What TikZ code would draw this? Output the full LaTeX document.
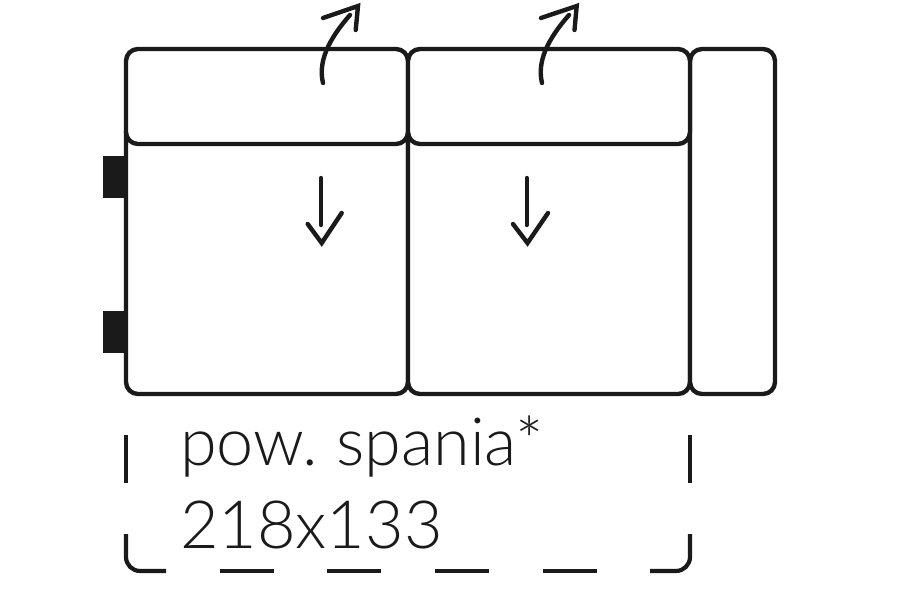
\documentclass[tikz,border=0pt]{standalone}
\usepackage{fontspec}
\setmainfont{Lato Light}
\usepackage{xcolor}
\usetikzlibrary{positioning}
\definecolor{ink}{HTML}{1A1A1A}
\tikzset{>=stealth}

\begin{document}
\begin{tikzpicture}
	[x=1pt,y=-1pt,
	seat/.style={rectangle,draw=ink,fill=white,line width=4.4pt,rounded corners=12pt,inner sep=0pt,outer sep=0pt},
	leg/.style={rectangle,fill=ink,inner sep=0pt,outer sep=0pt,minimum width=22pt,minimum height=42pt},
	caption/.style={inner sep=0pt,outer sep=0pt,anchor=base west,text=ink,font=\fontsize{66.5}{66.5}\selectfont},
	arrowline/.style={draw=ink,line width=4.4pt,line cap=round,line join=miter},
	sleep/.style={draw=ink,line width=4.2pt}]
	\useasboundingbox (0,0) rectangle (900,600);
	% legs go first, behind the frame
	\node [leg] (legA) at (114,177) {};
	\node [leg] (legB) at (114,332) {};
	% seats
	\node [seat,minimum width=282pt,minimum height=274pt] (seatA) at (267,257) {};
	\node [seat,minimum width=282pt,minimum height=274pt] (seatB) [right=0pt of seatA] {};
	\node [seat,minimum width=85pt,minimum height=345pt] (arm) at (732.5,221.5) {};
	% backs
	\node [seat,minimum width=282pt,minimum height=95pt] (backA) at (267,96.5) {};
	\node [seat,minimum width=282pt,minimum height=95pt] (backB) [right=0pt of backA] {};
	% text
	\node [caption] (pow) at (180,465) {pow.\hspace{18pt}spania*};
	\node [caption] (size) at (180,548) {218x133};
	% fold arrows
	\draw [arrowline] (323,83) .. controls (318,62) and (328,40) .. (350,15);
	\draw [arrowline] (323,18) -- (358,6) -- (355.7,30);
	\draw [arrowline] (542,83) .. controls (537,62) and (547,40) .. (569,15);
	\draw [arrowline] (541,18) -- (576.7,6) -- (574.5,30);
	% pull arrows
	\draw [arrowline] (321,178) -- (321,225);
	\draw [arrowline] (307.7,224) -- (321.7,243) -- (341.7,213);
	\draw [arrowline] (526.7,178) -- (526.7,225);
	\draw [arrowline] (513,224) -- (527.5,243) -- (548,213);
	% sleeping area
	\draw [sleep] (126,435) -- (126,483);
	\draw [sleep] (690,435) -- (690,483);
	\draw [sleep,rounded corners=14pt] (126,534) -- (126,571) -- (166,571);
	\draw [sleep,rounded corners=14pt] (690,534) -- (690,571) -- (650,571);
	\foreach \x in {220,327,435,543}
		\draw [sleep] (\x,571) -- ++(54,0);
\end{tikzpicture}
\end{document}
